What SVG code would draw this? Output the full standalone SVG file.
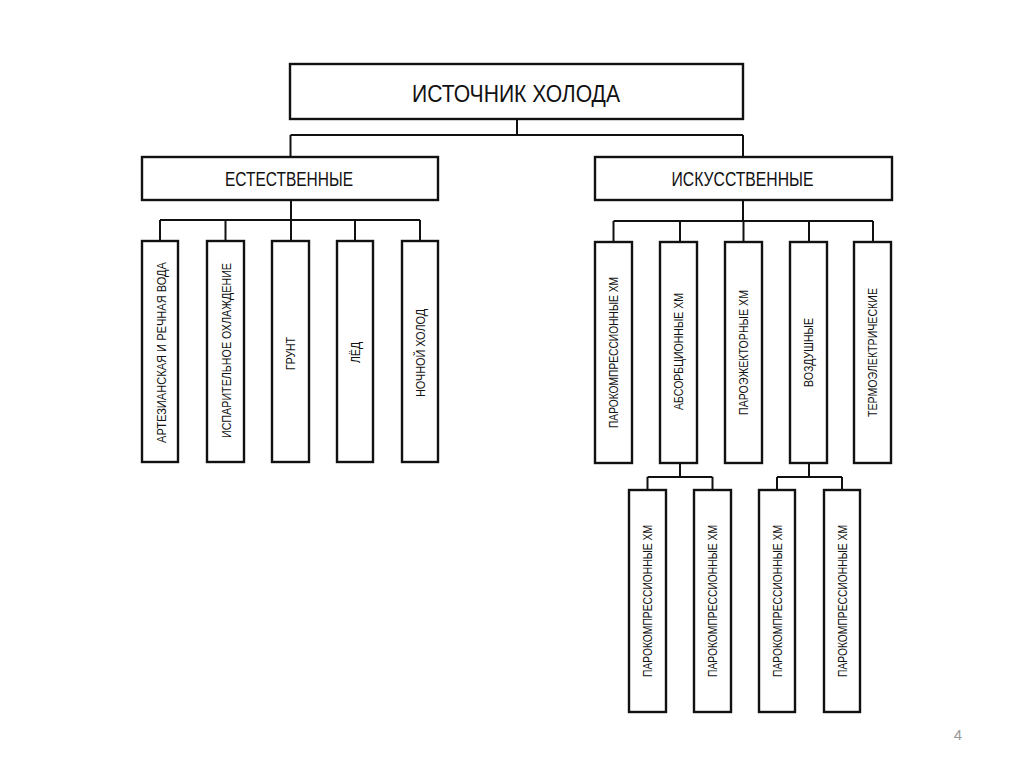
<svg xmlns="http://www.w3.org/2000/svg" width="1024" height="767" viewBox="0 0 1024 767">
<style>
.box{fill:#fff;stroke:#111;stroke-width:2.4}
.ln{fill:none;stroke:#111;stroke-width:2}
.t{font-family:"Liberation Sans",Arial,sans-serif;fill:#111;text-anchor:middle}
.v{font-size:12.5px}
</style>
<rect x="0" y="0" width="1024" height="767" fill="#fff"/>
<g id="connectors">
<path class="ln" d="M517 119V135M290.5 135H743M290.5 135V157M743 135V157"/>
<path class="ln" d="M291 200V220M160 220H420M160 220V241M225.5 220V241M291 220V241M355 220V241M420 220V241"/>
<path class="ln" d="M743 200V221M613.5 221H873M613.5 221V242M680 221V242M743.5 221V242M809 221V242M873 221V242"/>
<path class="ln" d="M680 463V477M647.5 477H712.5M647.5 477V490M712.5 477V490"/>
<path class="ln" d="M809 463V477M777 477H842M777 477V490M842 477V490"/>
</g>
<g id="root"><rect class="box" x="290" y="64" width="453" height="55"/><text class="t" x="516" y="102" font-size="24" textLength="208" lengthAdjust="spacingAndGlyphs">ИСТОЧНИК ХОЛОДА</text></g>
<g id="natural"><rect class="box" x="142" y="157" width="296" height="43"/><text class="t" x="289" y="186" font-size="19.5" textLength="128" lengthAdjust="spacingAndGlyphs">ЕСТЕСТВЕННЫЕ</text></g>
<g id="artificial"><rect class="box" x="595" y="157" width="297" height="43"/><text class="t" x="742.5" y="186" font-size="19.5" textLength="142" lengthAdjust="spacingAndGlyphs">ИСКУССТВЕННЫЕ</text></g>

<g id="n1"><rect class="box" x="142" y="241" width="36" height="221"/><text class="t v" transform="translate(165.5 352.5) rotate(-90)" textLength="181" lengthAdjust="spacingAndGlyphs">АРТЕЗИАНСКАЯ И РЕЧНАЯ ВОДА</text></g>
<g id="n2"><rect class="box" x="207" y="241" width="37" height="221"/><text class="t v" transform="translate(231 350.5) rotate(-90)" textLength="175" lengthAdjust="spacingAndGlyphs">ИСПАРИТЕЛЬНОЕ ОХЛАЖДЕНИЕ</text></g>
<g id="n3"><rect class="box" x="272" y="241" width="37" height="221"/><text class="t v" transform="translate(295 353.5) rotate(-90)" textLength="33" lengthAdjust="spacingAndGlyphs">ГРУНТ</text></g>
<g id="n4"><rect class="box" x="337" y="241" width="36" height="221"/><text class="t v" transform="translate(359.5 352.5) rotate(-90)" textLength="21" lengthAdjust="spacingAndGlyphs">ЛЁД</text></g>
<g id="n5"><rect class="box" x="402" y="241" width="36" height="221"/><text class="t v" transform="translate(424.5 353) rotate(-90)" textLength="88" lengthAdjust="spacingAndGlyphs">НОЧНОЙ ХОЛОД</text></g>

<g id="a1"><rect class="box" x="595" y="242" width="37" height="221"/><text class="t v" transform="translate(618 352.5) rotate(-90)" textLength="151" lengthAdjust="spacingAndGlyphs">ПАРОКОМПРЕССИОННЫЕ ХМ</text></g>
<g id="a2"><rect class="box" x="660" y="242" width="37" height="221"/><text class="t v" transform="translate(683 351.5) rotate(-90)" textLength="117" lengthAdjust="spacingAndGlyphs">АБСОРБЦИОННЫЕ ХМ</text></g>
<g id="a3"><rect class="box" x="725" y="242" width="37" height="221"/><text class="t v" transform="translate(748 352.5) rotate(-90)" textLength="125" lengthAdjust="spacingAndGlyphs">ПАРОЭЖЕКТОРНЫЕ ХМ</text></g>
<g id="a4"><rect class="box" x="790" y="242" width="37" height="221"/><text class="t v" transform="translate(813 352.5) rotate(-90)" textLength="69" lengthAdjust="spacingAndGlyphs">ВОЗДУШНЫЕ</text></g>
<g id="a5"><rect class="box" x="854" y="242" width="37" height="221"/><text class="t v" transform="translate(877 352.5) rotate(-90)" textLength="129" lengthAdjust="spacingAndGlyphs">ТЕРМОЭЛЕКТРИЧЕСКИЕ</text></g>

<g id="b1"><rect class="box" x="629" y="490" width="37" height="222"/><text class="t v" transform="translate(652 601) rotate(-90)" textLength="152" lengthAdjust="spacingAndGlyphs">ПАРОКОМПРЕССИОННЫЕ ХМ</text></g>
<g id="b2"><rect class="box" x="694" y="490" width="37" height="222"/><text class="t v" transform="translate(717 601) rotate(-90)" textLength="152" lengthAdjust="spacingAndGlyphs">ПАРОКОМПРЕССИОННЫЕ ХМ</text></g>
<g id="b3"><rect class="box" x="759" y="490" width="36" height="222"/><text class="t v" transform="translate(781.5 601) rotate(-90)" textLength="152" lengthAdjust="spacingAndGlyphs">ПАРОКОМПРЕССИОННЫЕ ХМ</text></g>
<g id="b4"><rect class="box" x="824" y="490" width="36" height="222"/><text class="t v" transform="translate(846.5 601) rotate(-90)" textLength="152" lengthAdjust="spacingAndGlyphs">ПАРОКОМПРЕССИОННЫЕ ХМ</text></g>

<text x="958" y="740" font-family="Liberation Sans,Arial,sans-serif" font-size="15" fill="#999" text-anchor="middle">4</text>
</svg>
